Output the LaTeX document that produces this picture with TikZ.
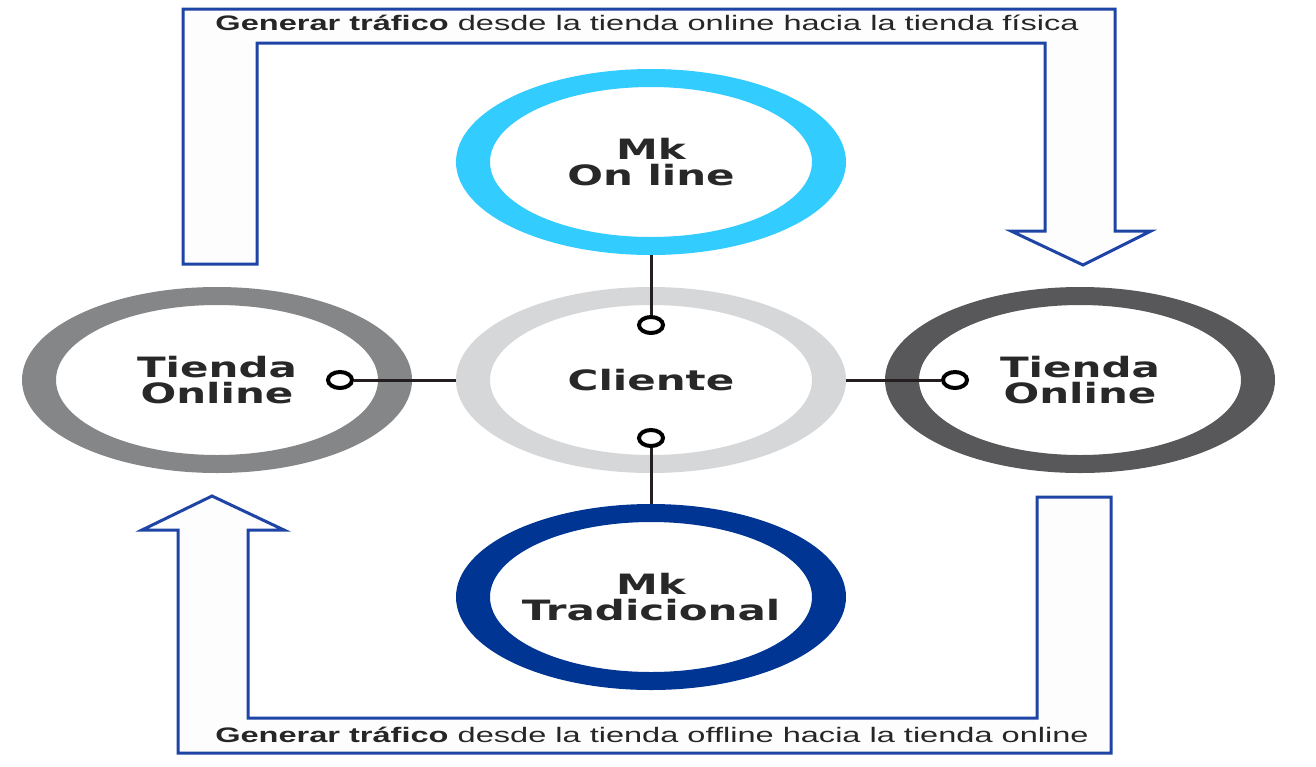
\documentclass[tikz,border=0pt]{standalone}
\usepackage{fontspec}
\usepackage{graphicx}
\setmainfont{Liberation Sans}
\newfontfamily\dvs{DejaVu Sans}
\usetikzlibrary{shapes.geometric}
\definecolor{arrowblue}{RGB}{30,68,166}
\definecolor{arrowfill}{RGB}{253,253,253}
\definecolor{cyanring}{RGB}{51,204,255}
\definecolor{lightring}{RGB}{214,215,217}
\definecolor{midring}{RGB}{133,134,136}
\definecolor{darkring}{RGB}{88,88,90}
\definecolor{navyring}{RGB}{0,53,148}
\definecolor{txtgray}{RGB}{40,40,40}
\definecolor{linegray}{RGB}{35,31,32}
\newcommand{\ctext}[1]{\scalebox{1.5}[1]{#1}}
\newcommand{\atext}[1]{\scalebox{1.55}[1]{#1}}
\tikzset{
  bigarrow/.style={draw=arrowblue, fill=arrowfill, line width=3pt, line join=miter},
  ringnode/.style={ellipse, inner sep=0pt, outer sep=0pt, minimum width=390pt, minimum height=186pt,
     align=center, text=txtgray, font=\dvs\bfseries\fontsize{28}{26}\selectfont},
  conndot/.style={ellipse, draw=black, fill=white, line width=4pt, minimum width=24pt, minimum height=16pt, inner sep=0pt},
  connline/.style={draw=linegray, line width=3pt},
  arrowtext/.style={text=black!85, font=\fontsize{21}{21}\selectfont, inner sep=0pt}
}
\newcommand{\ring}[3]{%
  \fill[#1, even odd rule] (#2) ellipse [x radius=195pt, y radius=93pt]
     (#2) ellipse [x radius=161pt, y radius=75pt];}
\begin{document}
\begin{tikzpicture}[x=1pt,y=-1pt]
\useasboundingbox (0,0) rectangle (1316,766);
\fill[white] (0,0) rectangle (1316,766);
% top arrow
\draw[bigarrow] (183,264) -- (183,9) -- (1115,9) -- (1115,231) -- (1151,231) -- (1083,265)
   -- (1011,231) -- (1045,231) -- (1045,43) -- (257,43) -- (257,264) -- cycle;
% bottom arrow
\draw[bigarrow] (212,496) -- (284,530) -- (248,530) -- (248,718) -- (1037,718) -- (1037,497)
   -- (1111,497) -- (1111,753) -- (178,753) -- (178,530) -- (142,530) -- cycle;
\node[arrowtext] (ttop) at (647,23) {\atext{\textbf{Generar tráfico} desde la tienda online hacia la tienda física}};
\node[arrowtext] (tbot) at (652,735) {\atext{\textbf{Generar tráfico} desde la tienda offline hacia la tienda online}};
% rings
\ring{cyanring}{651,162}{}
\ring{lightring}{651,380}{}
\ring{midring}{217,380}{}
\ring{darkring}{1080,380}{}
\ring{navyring}{651,597}{}
\node[ringnode] (mkon) at (651,162) {\ctext{Mk}\\\ctext{On line}};
\node[ringnode] (cli) at (651,380) {\ctext{Cliente}};
\node[ringnode] (tl) at (217,380) {\ctext{Tienda}\\\ctext{Online}};
\node[ringnode] (tr) at (1080,380) {\ctext{Tienda}\\\ctext{Online}};
\node[ringnode] (mkt) at (651,597) {\ctext{Mk}\\\ctext{Tradicional}};
% connectors
\node[conndot] (dt) at (651,325) {};
\node[conndot] (db) at (651,438) {};
\node[conndot] (dl) at (340,380) {};
\node[conndot] (dr) at (955,380) {};
\draw[connline] (mkon.south) -- (dt.north);
\draw[connline] (db.south) -- (mkt.north);
\draw[connline] (dl.east) -- (cli.west);
\draw[connline] (cli.east) -- (dr.west);
\end{tikzpicture}
\end{document}
